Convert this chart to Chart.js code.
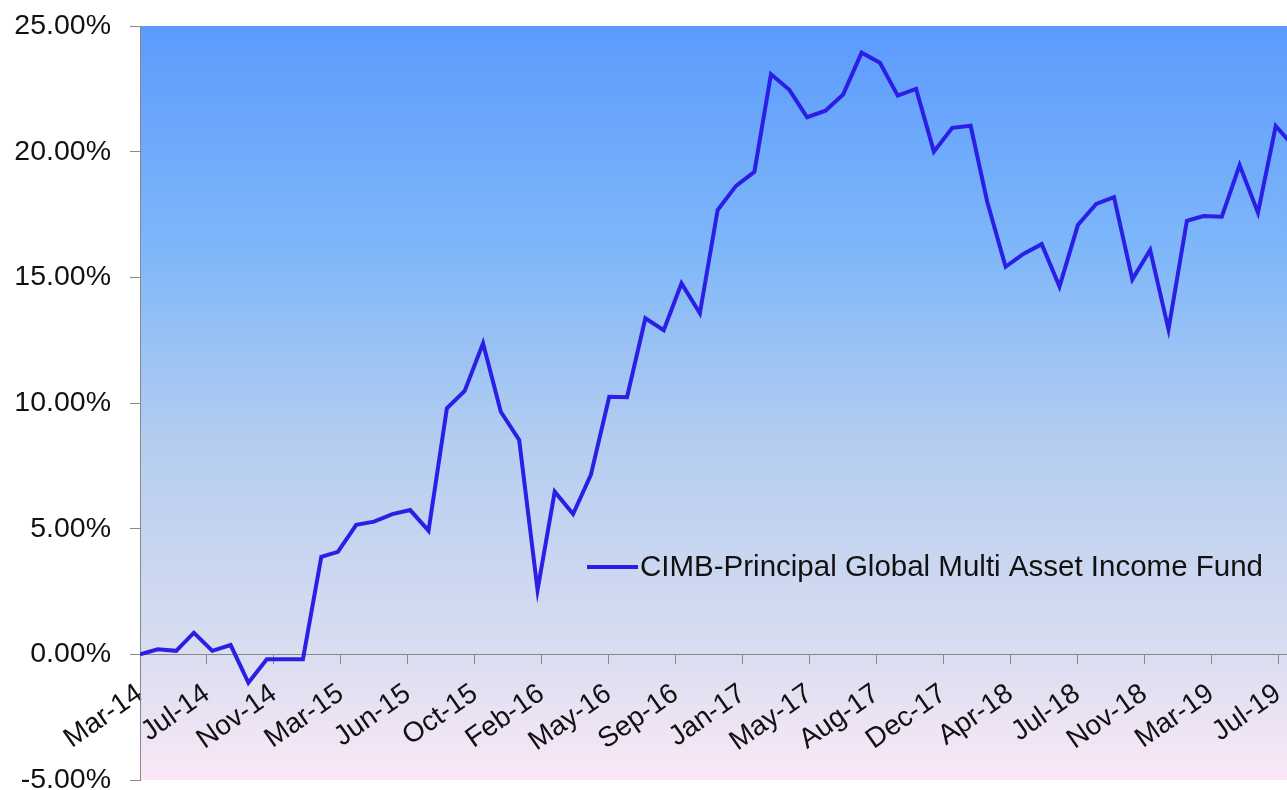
<!DOCTYPE html>
<html>
<head>
<meta charset="utf-8">
<script src="https://cdn.jsdelivr.net/npm/chart.js@4.4.1/dist/chart.umd.min.js"></script>
<style>
  html, body { margin: 0; padding: 0; background: #ffffff; overflow: hidden; }
  #wrap { position: absolute; left: 0; top: 0; width: 1287px; height: 810px; }
</style>
</head>
<body>
<div id="wrap"><canvas id="c"></canvas></div>
<script>
// Month-end categories (one point per month)
const categories = [
  'Mar-14','Apr-14','May-14','Jun-14','Jul-14','Aug-14','Sep-14','Oct-14','Nov-14','Dec-14',
  'Jan-15','Feb-15','Mar-15','Apr-15','May-15','Jun-15','Jul-15','Aug-15','Sep-15','Oct-15','Nov-15','Dec-15',
  'Jan-16','Feb-16','Mar-16','Apr-16','May-16','Jun-16','Jul-16','Aug-16','Sep-16','Oct-16','Nov-16','Dec-16',
  'Jan-17','Feb-17','Mar-17','Apr-17','May-17','Jun-17','Jul-17','Aug-17','Sep-17','Oct-17','Nov-17','Dec-17',
  'Jan-18','Feb-18','Mar-18','Apr-18','May-18','Jun-18','Jul-18','Aug-18','Sep-18','Oct-18','Nov-18','Dec-18',
  'Jan-19','Feb-19','Mar-19','Apr-19','May-19','Jun-19','Jul-19'
];

// Cumulative return (%)
const fundValues = [
  0.00, 0.20, 0.14, 0.86, 0.14, 0.37, -1.13, -0.20, -0.20, -0.20,
  3.88, 4.08, 5.15, 5.28, 5.58, 5.74, 4.92, 9.79, 10.48, 12.38, 9.65, 8.53,
  2.56, 6.47, 5.58, 7.14, 10.25, 10.23, 13.37, 12.90, 14.76, 13.57, 17.68, 18.64,
  19.20, 23.08, 22.46, 21.37, 21.63, 22.28, 23.94, 23.54, 22.23, 22.50, 20.00, 20.95,
  21.03, 18.01, 15.42, 15.93, 16.32, 14.63, 17.08, 17.92, 18.19, 14.92, 16.09, 12.93,
  17.25, 17.44, 17.41, 19.47, 17.57, 21.02, 20.20
];

// Date-axis tick labels (major unit 113 days from 31-Mar-14)
const tickLabels = [
  'Mar-14','Jul-14','Nov-14','Mar-15','Jun-15','Oct-15','Feb-16','May-16','Sep-16',
  'Jan-17','May-17','Aug-17','Dec-17','Apr-18','Jul-18','Nov-18','Mar-19','Jul-19'
];
const TICK_DAYS = 113;
const X_MAX_DAYS = 1936;

const yTicks = [-5, 0, 5, 10, 15, 20, 25];

const seriesName = 'CIMB-Principal Global Multi Asset Income Fund';

const MONTHS = ['Jan','Feb','Mar','Apr','May','Jun','Jul','Aug','Sep','Oct','Nov','Dec'];
function monthEnd(label) {
  const [m, y] = label.split('-');
  return Date.UTC(2000 + parseInt(y, 10), MONTHS.indexOf(m) + 1, 0);
}
const t0 = monthEnd(categories[0]);
const points = categories.map((c, i) => ({ x: Math.round((monthEnd(c) - t0) / 86400000), y: fundValues[i] }));

const FONT = "'Liberation Sans', Arial, sans-serif";

function zeroPadding(scale) {
  scale.paddingTop = 0;
  scale.paddingBottom = 0;
  scale.paddingLeft = 0;
  scale.paddingRight = 0;
}

const bgPlugin = {
  id: 'plotBg',
  beforeDraw(chart) {
    const { ctx, chartArea: a } = chart;
    const g = ctx.createLinearGradient(0, a.top, 0, a.bottom);
    g.addColorStop(0, '#5b9bfd');
    g.addColorStop(0.3, '#7fb7f9');
    g.addColorStop(0.55, '#b4cdf0');
    g.addColorStop(0.83, '#d9ddf0');
    g.addColorStop(1, '#fbe8f7');
    ctx.save();
    ctx.fillStyle = g;
    ctx.fillRect(a.left, a.top, a.right - a.left, a.bottom - a.top);
    ctx.restore();
  }
};

const legendPlugin = {
  id: 'insideLegend',
  afterDraw(chart) {
    const { ctx } = chart;
    const ds = chart.data.datasets[0];
    const y = 567;
    ctx.save();
    ctx.strokeStyle = ds.borderColor;
    ctx.lineWidth = 4;
    ctx.beginPath();
    ctx.moveTo(587, y);
    ctx.lineTo(638, y);
    ctx.stroke();
    ctx.fillStyle = '#111111';
    ctx.font = '29.5px ' + FONT;
    ctx.textBaseline = 'middle';
    ctx.textAlign = 'left';
    ctx.fillText(ds.label, 640, y + 1);
    ctx.restore();
  }
};

new Chart(document.getElementById('c'), {
  type: 'line',
  data: {
    datasets: [{
      label: seriesName,
      data: points,
      borderColor: '#2b1fe6',
      borderWidth: 4,
      pointRadius: 0,
      tension: 0,
      fill: false
    }]
  },
  options: {
    responsive: true,
    maintainAspectRatio: false,
    animation: false,
    layout: { padding: { top: 26, bottom: 30, left: 0, right: 0 } },
    plugins: { legend: { display: false }, tooltip: { enabled: false } },
    scales: {
      x: {
        type: 'linear',
        position: { y: 0 },
        min: 0,
        max: X_MAX_DAYS,
        afterBuildTicks(scale) {
          scale.ticks = tickLabels.map((l, k) => ({ value: k * TICK_DAYS }));
        },
        afterFit(scale) { zeroPadding(scale); },
        grid: { drawOnChartArea: false, drawTicks: true, tickLength: 9, color: '#888888' },
        border: { display: true, color: '#888888', width: 1 },
        ticks: {
          autoSkip: false,
          minRotation: 35,
          maxRotation: 35,
          padding: 14,
          color: '#111111',
          font: { family: FONT, size: 28 },
          callback: (v, i) => tickLabels[i]
        }
      },
      y: {
        type: 'linear',
        min: -5,
        max: 25,
        afterBuildTicks(scale) {
          scale.ticks = yTicks.map(v => ({ value: v }));
        },
        afterFit(scale) { scale.width = 140; zeroPadding(scale); },
        grid: { drawOnChartArea: false, drawTicks: true, tickLength: 10, color: '#888888' },
        border: { display: true, color: '#888888', width: 1 },
        ticks: {
          padding: 19,
          color: '#111111',
          font: { family: FONT, size: 28.5 },
          callback: v => v.toFixed(2) + '%'
        }
      }
    }
  },
  plugins: [bgPlugin, legendPlugin]
});
</script>
</body>
</html>
